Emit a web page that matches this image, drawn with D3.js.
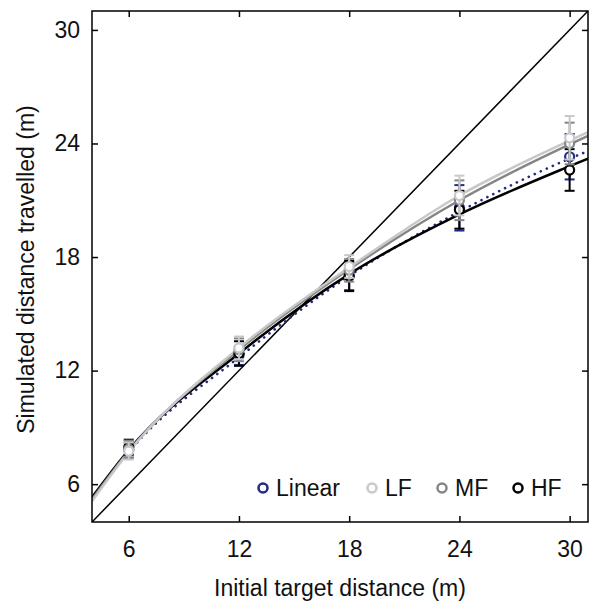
<!DOCTYPE html>
<html>
<head>
<meta charset="utf-8">
<script src="https://cdn.jsdelivr.net/npm/d3@7"></script>
<style>
  html, body { margin: 0; padding: 0; background: #fff; }
  svg { display: block; font-family: "Liberation Sans", Arial, sans-serif; }
</style>
</head>
<body>
<svg id="chart" width="594" height="605"></svg>
<script>
// ---------------- data ----------------
const targetDistances = [6, 12, 18, 24, 30];
const xTicks = [6, 12, 18, 24, 30];
const yTicks = [6, 12, 18, 24, 30];
const seriesNames = ["Linear", "LF", "MF", "HF"];
const seriesColors = ["#1f2a84", "#c8c8c8", "#858585", "#000000"];

// mean simulated distance travelled, per series
const meanLinear = [7.8, 12.8, 17.0, 20.6, 23.3];
const meanLF     = [7.75, 13.2, 17.5, 21.25, 24.3];
const meanMF     = [7.85, 13.1, 17.3, 21.0, 24.0];
const meanHF     = [7.95, 12.9, 17.0, 20.5, 22.6];

// error (half-length of bar)
const errLinear = [0.4, 0.5, 0.75, 1.2, 1.2];
const errLF     = [0.45, 0.6, 0.6, 1.05, 1.15];
const errMF     = [0.45, 0.6, 0.6, 1.05, 1.1];
const errHF     = [0.4, 0.65, 0.8, 1.0, 1.1];

// fitted line values
const lineX      = [4, 6, 12, 18, 24, 30, 31];
const lineLinear = [5.2, 7.7, 12.7, 17.0, 20.4, 23.2, 23.6];
const lineLF     = [5.1, 7.7, 13.2, 17.45, 21.25, 24.15, 24.6];
const lineMF     = [5.2, 7.75, 13.1, 17.35, 21.0, 23.95, 24.4];
const lineHF     = [5.3, 7.8, 12.9, 17.1, 20.25, 22.8, 23.2];

const xDomain = [4, 31];
const yDomain = [4, 31];

// ---------------- layout ----------------
const svg = d3.select("#chart");
const W = 594, H = 605;
const margin = { left: 92, right: 6, top: 11, bottom: 83 };
const x = d3.scaleLinear().domain(xDomain).range([margin.left, W - margin.right]);
const y = d3.scaleLinear().domain(yDomain).range([H - margin.bottom, margin.top]);

const series = [
  { name: "Linear", color: seriesColors[0], mean: meanLinear, err: errLinear, line: lineLinear, dash: "0.1,6.5" },
  { name: "LF",     color: seriesColors[1], mean: meanLF,     err: errLF,     line: lineLF,     dash: null },
  { name: "MF",     color: seriesColors[2], mean: meanMF,     err: errMF,     line: lineMF,     dash: null },
  { name: "HF",     color: seriesColors[3], mean: meanHF,     err: errHF,     line: lineHF,     dash: null }
];
const drawOrder = ["Linear", "HF", "MF", "LF"];

// clip
svg.append("defs").append("clipPath").attr("id", "clip")
  .append("rect").attr("x", x(xDomain[0])).attr("y", y(yDomain[1]))
  .attr("width", x(xDomain[1]) - x(xDomain[0])).attr("height", y(yDomain[0]) - y(yDomain[1]));

const plot = svg.append("g").attr("clip-path", "url(#clip)");

// identity line
plot.append("line")
  .attr("x1", x(xDomain[0])).attr("y1", y(xDomain[0]))
  .attr("x2", x(xDomain[1])).attr("y2", y(xDomain[1]))
  .attr("stroke", "#000").attr("stroke-width", 1.5);

const lineGen = d3.line().x(d => x(d[0])).y(d => y(d[1])).curve(d3.curveMonotoneX);

// lines
drawOrder.forEach(n => {
  const s = series.find(t => t.name === n);
  const p = plot.append("path")
    .datum(lineX.map((v, i) => [v, s.line[i]]))
    .attr("d", lineGen)
    .attr("fill", "none")
    .attr("stroke", s.color)
    .attr("stroke-width", s.dash ? 2.6 : 2.5)
    .attr("stroke-linecap", "round");
  if (s.dash) p.attr("stroke-dasharray", s.dash);
});

// error bars and markers
const capW = 5;
drawOrder.forEach(n => {
  const s = series.find(t => t.name === n);
  const g = svg.append("g");
  targetDistances.forEach((d, i) => {
    const cx = x(d);
    const top = y(s.mean[i] + s.err[i]);
    const bot = y(s.mean[i] - s.err[i]);
    g.append("line").attr("x1", cx).attr("x2", cx).attr("y1", top).attr("y2", bot)
      .attr("stroke", s.color).attr("stroke-width", 2);
    g.append("line").attr("x1", cx - capW).attr("x2", cx + capW).attr("y1", top).attr("y2", top)
      .attr("stroke", s.color).attr("stroke-width", 2);
    g.append("line").attr("x1", cx - capW).attr("x2", cx + capW).attr("y1", bot).attr("y2", bot)
      .attr("stroke", s.color).attr("stroke-width", 2);
  });
  g.selectAll("circle").data(targetDistances).enter().append("circle")
    .attr("cx", d => x(d)).attr("cy", (d, i) => y(s.mean[i]))
    .attr("r", 4.5).attr("fill", "#fff")
    .attr("stroke", s.color).attr("stroke-width", 2.2);
});

// axes (box with inward ticks on all sides)
const tickLen = 6;
const axisB = d3.axisBottom(x).tickValues(xTicks).tickSizeInner(-tickLen).tickSizeOuter(0).tickPadding(19);
const axisL = d3.axisLeft(y).tickValues(yTicks).tickSizeInner(-tickLen).tickSizeOuter(0).tickPadding(12);
const axisT = d3.axisTop(x).tickValues(xTicks).tickSizeInner(-tickLen).tickSizeOuter(0).tickFormat("");
const axisR = d3.axisRight(y).tickValues(yTicks).tickSizeInner(-tickLen).tickSizeOuter(0).tickFormat("");

function styleAxis(g) {
  g.select(".domain").remove();
  g.selectAll(".tick line").attr("stroke", "#000").attr("stroke-width", 1.5);
  g.selectAll(".tick text").attr("fill", "#111").style("font-size", "23px")
    .style("font-family", "'Liberation Sans', Arial, sans-serif");
}
svg.append("g").attr("transform", `translate(0,${y(yDomain[0])})`).call(axisB).call(styleAxis);
svg.append("g").attr("transform", `translate(${x(xDomain[0])},0)`).call(axisL).call(styleAxis);
svg.append("g").attr("transform", `translate(0,${y(yDomain[1])})`).call(axisT).call(styleAxis);
svg.append("g").attr("transform", `translate(${x(xDomain[1])},0)`).call(axisR).call(styleAxis);

svg.append("rect")
  .attr("x", x(xDomain[0])).attr("y", y(yDomain[1]))
  .attr("width", x(xDomain[1]) - x(xDomain[0])).attr("height", y(yDomain[0]) - y(yDomain[1]))
  .attr("fill", "none").attr("stroke", "#000").attr("stroke-width", 1.5);

// axis labels
svg.append("text")
  .attr("x", (x(xDomain[0]) + x(xDomain[1])) / 2).attr("y", 596)
  .attr("text-anchor", "middle").style("font-size", "23px").attr("fill", "#111")
  .text("Initial target distance (m)");
svg.append("text")
  .attr("transform", `translate(34,${(y(yDomain[0]) + y(yDomain[1])) / 2 + 3}) rotate(-90)`)
  .attr("text-anchor", "middle").style("font-size", "23px").attr("fill", "#111")
  .text("Simulated distance travelled (m)");

// legend
const legendX = [263, 372, 442, 518];
const legend = svg.append("g");
series.forEach((s, i) => {
  legend.append("circle").attr("cx", legendX[i]).attr("cy", 488).attr("r", 4.5)
    .attr("fill", "#fff").attr("stroke", s.color).attr("stroke-width", 2.5);
  legend.append("text").attr("x", legendX[i] + 13).attr("y", 496)
    .style("font-size", "23px").attr("fill", "#111").text(s.name);
});
</script>
</body>
</html>
